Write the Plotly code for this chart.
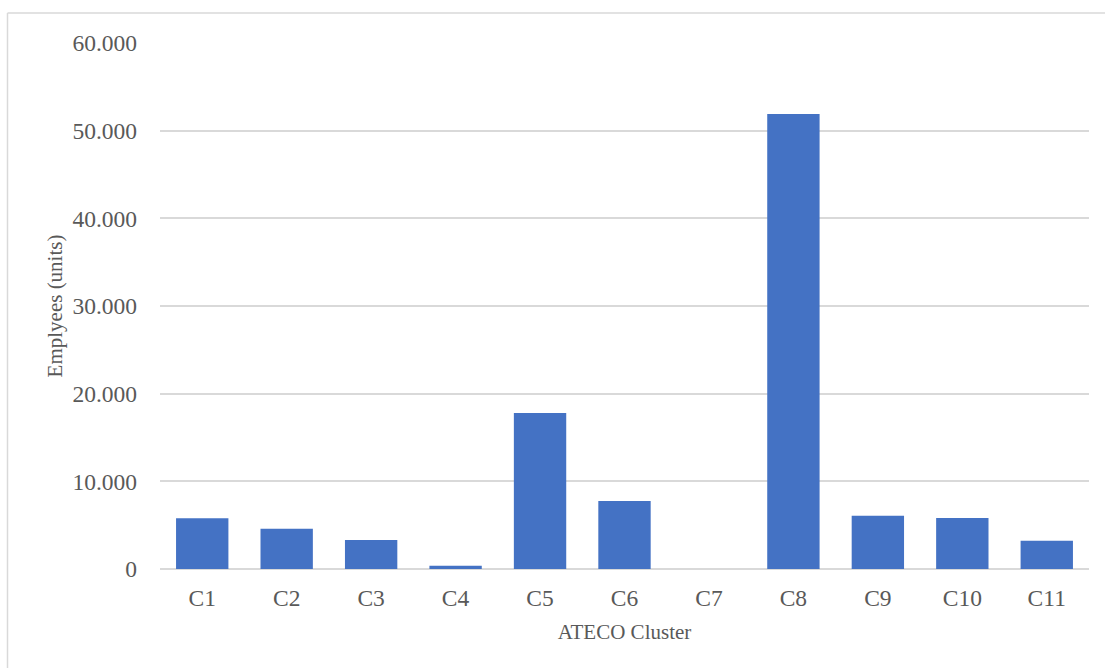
import plotly.graph_objects as go

categories = ["C1", "C2", "C3", "C4", "C5", "C6", "C7", "C8", "C9", "C10", "C11"]
employees = [5800, 4600, 3300, 380, 17800, 7750, 0, 51900, 6070, 5810, 3220]
y_ticks = [0, 10000, 20000, 30000, 40000, 50000, 60000]

W, H = 1105, 668
L, R, T, B = 160, 16, 43, 99
pw, ph = W - L - R, H - T - B

fig = go.Figure(go.Bar(x=categories, y=employees, marker=dict(color="#4472C4", line=dict(width=0))))

ff = "Liberation Serif, Times New Roman, serif"
grey = "#595959"

bx = (7.5 - L) / pw
by = 1 + (T - 13) / ph
fig.add_shape(type="line", xref="paper", yref="paper", x0=bx, x1=bx, y0=by, y1=-2,
              line=dict(color="#d9d9d9", width=1.5))
fig.add_shape(type="line", xref="paper", yref="paper", x0=bx, x1=2, y0=by, y1=by,
              line=dict(color="#d9d9d9", width=1.5))

fig.update_layout(
    width=W, height=H,
    margin=dict(l=L, r=R, t=T, b=B),
    paper_bgcolor="white", plot_bgcolor="white",
    separators=",.",
    bargap=0.38,
    showlegend=False,
    font=dict(family=ff, color=grey),
    xaxis=dict(
        title=dict(text="ATECO Cluster", font=dict(family=ff, size=21, color=grey), standoff=14),
        tickfont=dict(family=ff, size=23.5, color=grey),
        showline=False, showgrid=False, ticks="", ticklabelstandoff=12,
    ),
    yaxis=dict(
        title=dict(text="Emplyees (units)", font=dict(family=ff, size=21, color=grey), standoff=4),
        range=[0, 60000], tickvals=y_ticks, tickformat=",.0f",
        tickfont=dict(family=ff, size=23.5, color=grey),
        showgrid=True, gridcolor="#d9d9d9", gridwidth=1.5,
        zeroline=True, zerolinecolor="#d9d9d9", zerolinewidth=1.5,
        ticks="", ticklen=0, ticklabelstandoff=22,
    ),
)

fig.write_html("out.html")
